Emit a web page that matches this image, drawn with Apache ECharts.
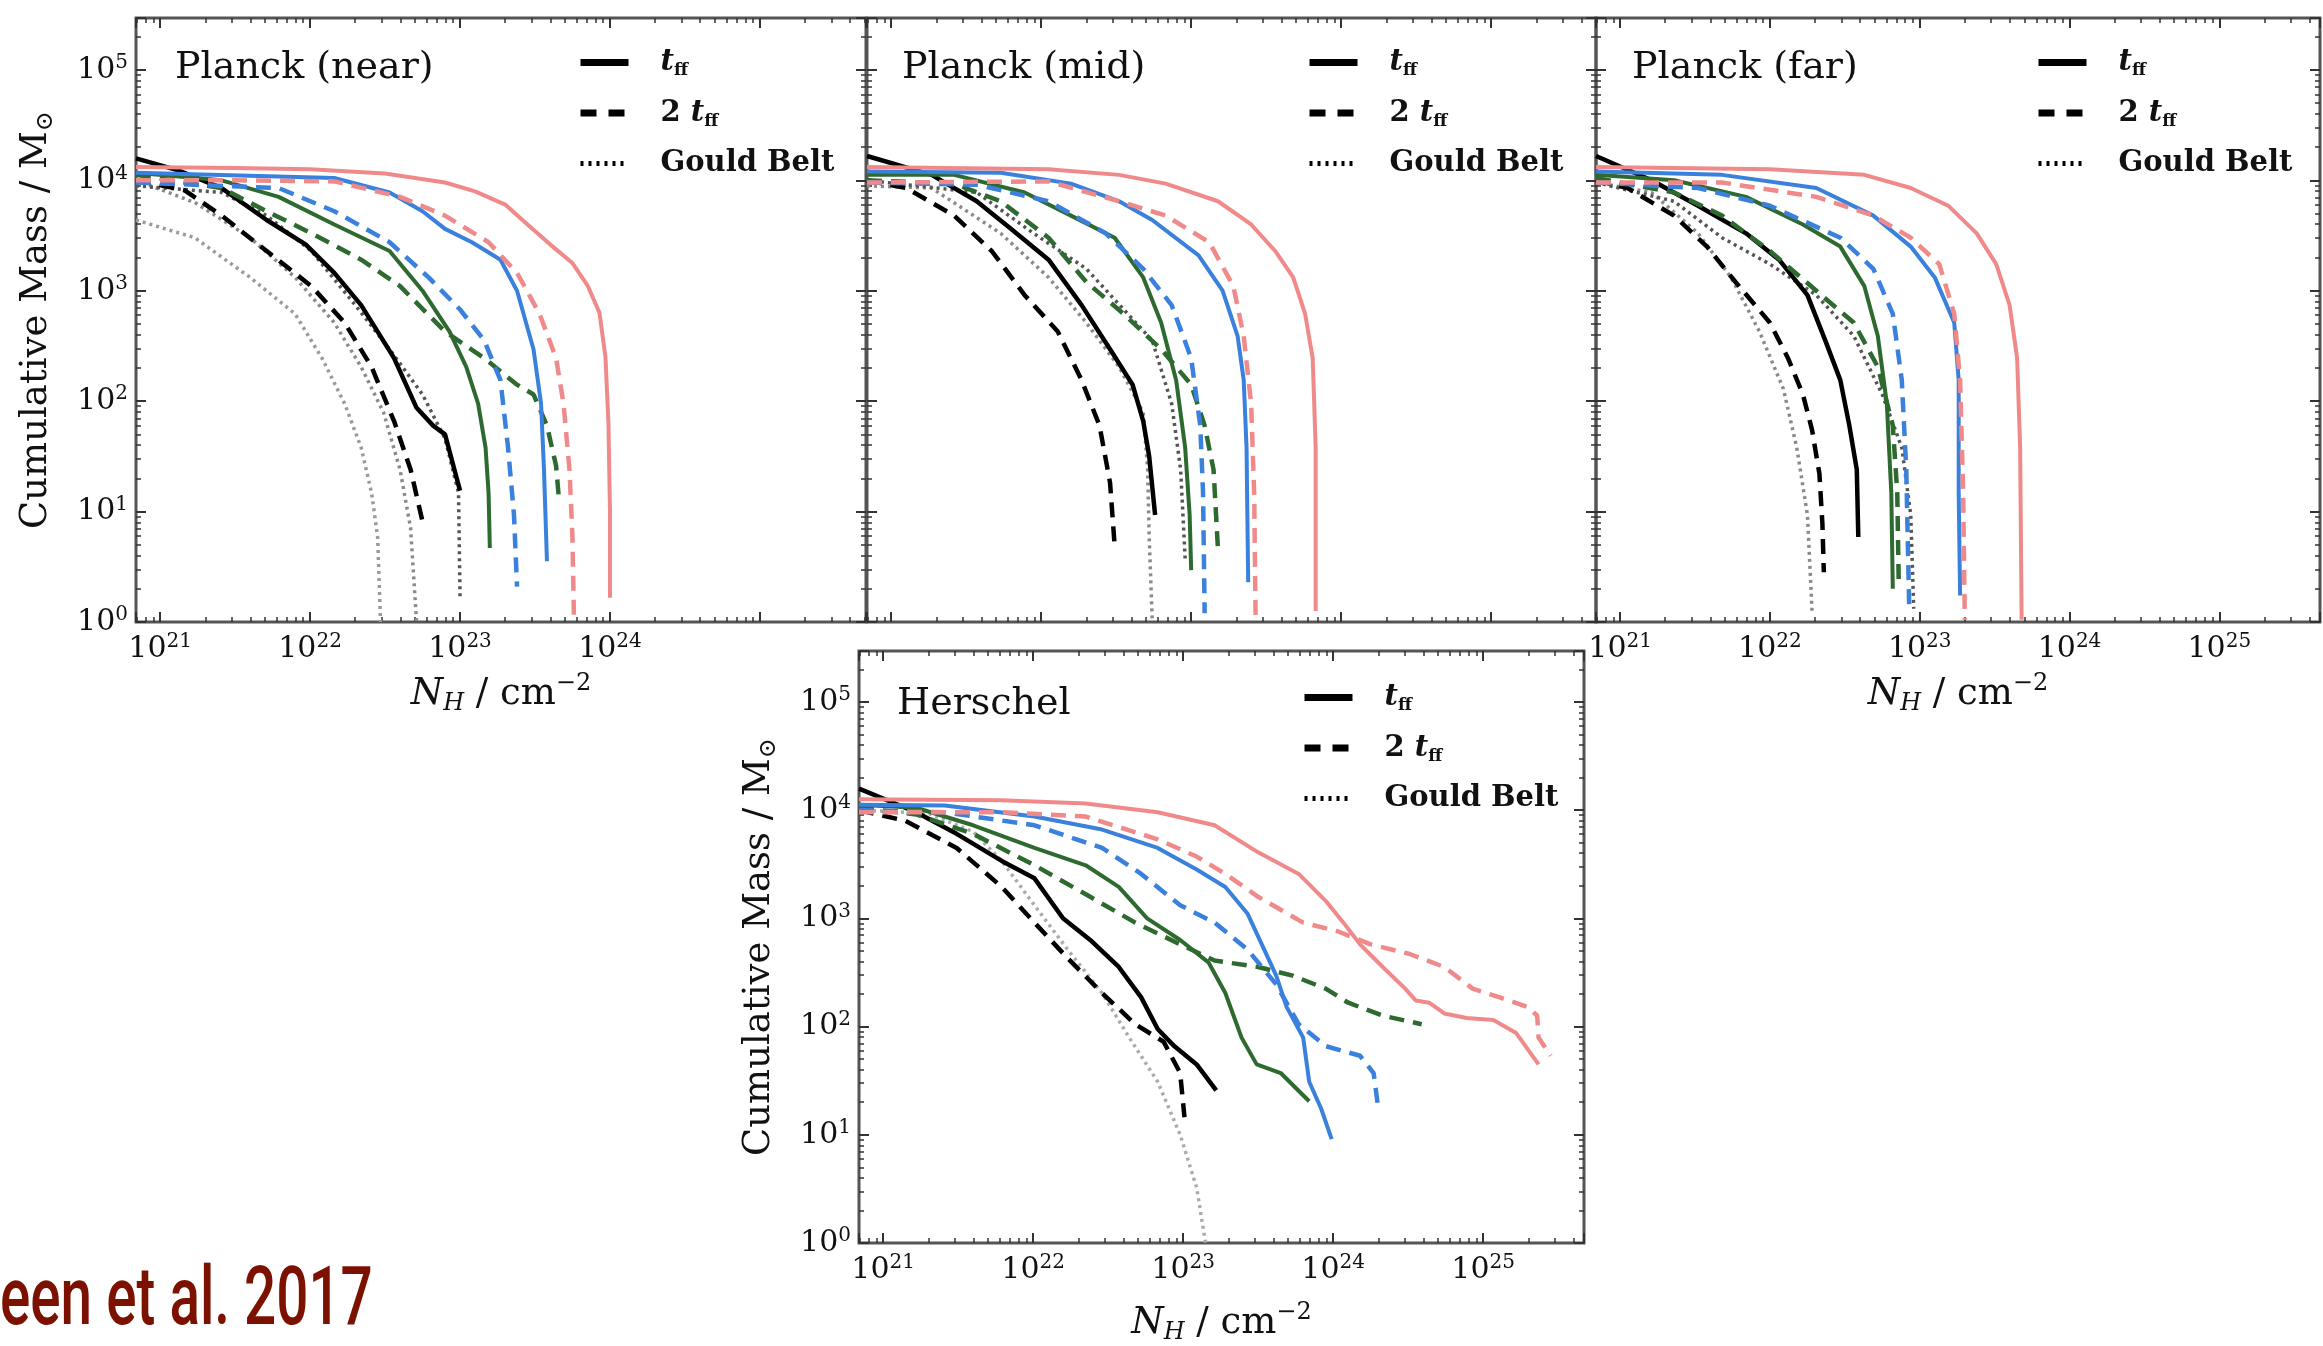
<!DOCTYPE html>
<html><head><meta charset="utf-8">
<script src="https://cdn.jsdelivr.net/npm/echarts@6/dist/echarts.min.js"></script>
<style>html,body{margin:0;padding:0;background:#fff}#c{width:2323px;height:1346px}</style>
</head><body><div id="c"></div><script>
// ---------- labels ----------
const panelNames = ['Planck (near)', 'Planck (mid)', 'Planck (far)', 'Herschel'];
const legendNames = ['t_ff', '2 t_ff', 'Gould Belt'];
const xTickExps = [[21, 22, 23, 24], [], [21, 22, 23, 24, 25], [21, 22, 23, 24, 25]];
const yTickExps = [[0, 1, 2, 3, 4, 5], [], [], [0, 1, 2, 3, 4, 5]];
const minorMantissas = [2, 3, 4, 5, 6, 7, 8, 9];
const xDecades = [20, 21, 22, 23, 24, 25];
const yDecades = [0, 1, 2, 3, 4, 5];
const xRangeMin = [6.9e20, 6.9e20, 6.9e20, 6.9e20];
const xRangeMax = [5.1e25, 5.0e25, 4.7e25, 4.7e25];
const yRangeMin = 1;
const yRangeMax = 2.95e5;

// ---------- Planck (near) ----------
const near_pink_tff = [[6.9e20,1.32e4],[3.16e21,1.29e4],[1e22,1.26e4],[3.16e22,1.15e4],[7.94e22,9.55e3],[1.26e23,7.94e3],[2.0e23,6.03e3],[2.82e23,3.98e3],[3.98e23,2.63e3],[5.62e23,1.78e3],[7.08e23,1.12e3],[8.51e23,631],[9.33e23,251],[9.77e23,63],[1e24,10],[1e24,1.66]];
const near_pink_2tff = [[6.9e20,1e4],[3.16e21,1e4],[1.45e22,9.77e3],[3.98e22,7.08e3],[7.94e22,4.79e3],[1.55e23,2.75e3],[2.4e23,1.45e3],[3.39e23,617],[4.37e23,245],[4.9e23,95],[5.37e23,24],[5.62e23,5.9],[5.75e23,1.1]];
const near_blue_tff = [[6.9e20,1.17e4],[1.45e22,1.05e4],[3.39e22,7.76e3],[5.62e22,5.25e3],[7.94e22,3.63e3],[1.2e23,2.75e3],[1.86e23,1.91e3],[2.4e23,1e3],[3.09e23,295],[3.47e23,95],[3.63e23,24],[3.8e23,3.55]];
const near_blue_2tff = [[6.9e20,9.55e3],[6.17e21,8.51e3],[1.45e22,5.25e3],[3.39e22,2.75e3],[6.17e22,1.32e3],[1e23,676],[1.45e23,355],[1.86e23,155],[2.09e23,38],[2.29e23,9.3],[2.4e23,2.09]];
const near_green_tff = [[6.9e20,1.17e4],[2.57e21,1e4],[6.17e21,7.08e3],[1.45e22,3.98e3],[3.39e22,2.29e3],[5.62e22,1e3],[8.51e22,427],[1.1e23,204],[1.32e23,95],[1.48e23,38],[1.55e23,14.8],[1.58e23,4.68]];
const near_green_2tff = [[6.9e20,1.12e4],[2.57e21,8.51e3],[5.13e21,5.25e3],[1.02e22,3.31e3],[2.19e22,1.91e3],[3.98e22,1.1e3],[7.94e22,427],[1.45e23,245],[2.4e23,141],[3.09e23,115],[3.8e23,60],[4.37e23,26],[4.57e23,12.9]];
const near_black_tff = [[6.9e20,1.58e4],[1.32e21,1.23e4],[2.57e21,8.51e3],[5.13e21,4.37e3],[9.33e21,2.63e3],[1.45e22,1.45e3],[2.19e22,741],[3.63e22,245],[5.13e22,87],[6.61e22,60],[7.94e22,50],[9.33e22,22],[1e23,15.5]];
const near_black_2tff = [[6.9e20,1e4],[1.45e21,8.13e3],[2.57e21,4.79e3],[5.13e21,2.29e3],[1.02e22,1.1e3],[1.7e22,513],[2.57e22,204],[3.63e22,66],[4.68e22,24],[5.62e22,8.13]];
const near_gould_a = [[6.9e20,4.37e3],[1.7e21,3.02e3],[3.98e21,1.32e3],[7.94e21,617],[1.2e22,245],[1.7e22,95],[2.19e22,38],[2.57e22,14.8],[2.82e22,5.89],[2.95e22,1.0]];
const near_gould_b = [[6.9e20,1e4],[1.7e21,6.31e3],[3.98e21,3.02e3],[7.94e21,1.32e3],[1.45e22,513],[2.19e22,204],[3.09e22,79],[3.98e22,24],[4.68e22,7.08],[5.13e22,1.0]];
const near_gould_c = [[6.9e20,8.91e3],[2.57e21,7.76e3],[5.13e21,4.79e3],[1.02e22,2.29e3],[2.0e22,741],[3.39e22,295],[5.62e22,115],[7.94e22,45.7],[9.77e22,14.8],[1e23,1.7]];

// ---------- Planck (mid) ----------
const mid_pink_tff = [[6.9e20,1.32e4],[1.12e22,1.26e4],[3.31e22,1.12e4],[6.76e22,9.33e3],[1.51e23,6.46e3],[2.51e23,3.98e3],[3.63e23,2.29e3],[4.79e23,1.32e3],[5.75e23,617],[6.46e23,245],[6.76e23,38],[6.76e23,1.26]];
const mid_pink_2tff = [[6.9e20,9.55e3],[1.12e22,9.77e3],[3.31e22,6.46e3],[6.76e22,4.79e3],[1.32e23,2.75e3],[1.91e23,1.1e3],[2.24e23,389],[2.51e23,95],[2.63e23,14.8],[2.69e23,1.05]];
const mid_blue_tff = [[6.9e20,1.2e4],[5.37e21,1.17e4],[1.58e22,9.33e3],[3.31e22,6.46e3],[5.5e22,4.37e3],[1.12e23,2.09e3],[1.62e23,1e3],[2.04e23,389],[2.24e23,155],[2.34e23,38],[2.4e23,2.29]];
const mid_blue_2tff = [[6.9e20,9.55e3],[3.72e21,9.12e3],[1.12e22,6.46e3],[2.69e22,3.31e3],[4.79e22,1.58e3],[7.41e22,741],[1e23,245],[1.15e23,60],[1.2e23,14.8],[1.23e23,1.2]];
const mid_green_tff = [[6.9e20,1.12e4],[2.63e21,1.12e4],[7.76e21,7.76e3],[1.58e22,4.79e3],[3.09e22,3.02e3],[4.79e22,1.32e3],[6.31e22,513],[7.94e22,155],[9.12e22,38],[9.77e22,9.33],[1e23,2.95]];
const mid_green_2tff = [[6.9e20,1e4],[2.63e21,9.33e3],[5.37e21,6.46e3],[1.12e22,3.02e3],[2.0e22,1.2e3],[3.55e22,617],[6.31e22,295],[1e23,141],[1.23e23,60],[1.41e23,24],[1.51e23,4.47]];
const mid_black_tff = [[6.9e20,1.66e4],[1.86e21,1.12e4],[3.72e21,6.46e3],[6.31e21,3.63e3],[1.12e22,1.91e3],[1.86e22,741],[2.88e22,295],[4.07e22,141],[4.79e22,66],[5.25e22,31.6],[5.75e22,9.33]];
const mid_black_2tff = [[6.9e20,1e4],[1.26e21,8.51e3],[2.63e21,4.79e3],[4.68e21,2.29e3],[7.76e21,912],[1.29e22,427],[1.86e22,155],[2.45e22,60],[2.88e22,18.2],[3.09e22,4.9]];
const mid_gould_a = [[6.9e20,8.91e3],[1.86e21,8.51e3],[5.37e21,3.31e3],[1.12e22,1.32e3],[2.0e22,513],[3.31e22,204],[4.79e22,79],[5.13e22,24],[5.25e22,5.89],[5.5e22,1.05]];
const mid_gould_b = [[6.9e20,1e4],[3.72e21,7.76e3],[8.91e21,3.31e3],[2.0e22,1.58e3],[3.55e22,676],[5.5e22,355],[7.41e22,95],[8.51e22,24],[9.12e22,3.72]];

// ---------- Planck (far) ----------
const far_pink_tff = [[6.9e20,1.32e4],[1e22,1.26e4],[4.27e22,1.12e4],[8.71e22,8.51e3],[1.55e23,5.89e3],[2.4e23,3.31e3],[3.24e23,1.74e3],[3.98e23,741],[4.47e23,245],[4.68e23,38],[4.79e23,1.05]];
const far_pink_2tff = [[6.9e20,9.55e3],[4.79e21,9.55e3],[2.04e22,7.08e3],[4.9e22,4.79e3],[8.71e22,3.02e3],[1.35e23,1.74e3],[1.7e23,617],[1.86e23,155],[1.95e23,14.8],[2.0e23,1.05]];
const far_blue_tff = [[6.9e20,1.2e4],[4.79e21,1.12e4],[2.04e22,8.51e3],[4.9e22,4.79e3],[8.71e22,2.51e3],[1.26e23,1.32e3],[1.7e23,513],[1.82e23,155],[1.82e23,14.8],[1.86e23,1.74]];
const far_blue_2tff = [[6.9e20,9.55e3],[3.31e21,8.51e3],[1e22,5.89e3],[2.95e22,3.02e3],[4.9e22,1.58e3],[6.61e22,617],[7.59e22,155],[8.13e22,24],[8.51e22,1.32]];
const far_green_tff = [[6.9e20,1.12e4],[2.29e21,1e4],[6.92e21,7.08e3],[1.66e22,3.98e3],[2.95e22,2.51e3],[4.27e22,1.1e3],[5.25e22,389],[6.03e22,95],[6.46e22,14.8],[6.61e22,2.0]];
const far_green_2tff = [[6.9e20,1.05e4],[2.29e21,7.76e3],[4.79e21,4.79e3],[1e22,2.29e3],[2.04e22,1e3],[3.63e22,513],[5.25e22,204],[6.61e22,60],[7.08e22,14.8],[7.24e22,2.29]];
const far_black_tff = [[6.9e20,1.66e4],[1.62e21,1e4],[3.31e21,5.89e3],[6.92e21,3.31e3],[1.15e22,1.91e3],[1.78e22,912],[2.34e22,355],[2.95e22,155],[3.39e22,60],[3.8e22,24],[3.89e22,5.89]];
const far_black_2tff = [[6.9e20,1e4],[1.12e21,8.51e3],[2.29e21,4.79e3],[3.8e21,2.51e3],[5.89e21,1.2e3],[1e22,513],[1.32e22,245],[1.66e22,115],[1.91e22,55],[2.14e22,21.9],[2.24e22,7.76],[2.29e22,2.82]];
const far_gould_a = [[6.9e20,9.55e3],[1.62e21,7.76e3],[3.31e21,3.31e3],[5.5e21,1.32e3],[8.51e21,427],[1.23e22,129],[1.51e22,38],[1.78e22,9.33],[1.91e22,1.26]];
const far_gould_b = [[6.9e20,9.55e3],[2.29e21,6.46e3],[4.79e21,3.02e3],[1e22,1.74e3],[2.04e22,912],[3.63e22,389],[5.62e22,115],[7.59e22,38],[8.71e22,9.33],[9.12e22,1.32]];

// ---------- Herschel ----------
const her_pink_tff = [[6.9e20,1.26e4],[6.17e21,1.23e4],[2.24e22,1.15e4],[6.76e22,9.55e3],[1.62e23,7.24e3],[3.16e23,4.07e3],[5.89e23,2.57e3],[8.91e23,1.45e3],[1.17e24,912],[1.51e24,575],[2.14e24,355],[3.02e24,224],[3.55e24,174],[4.37e24,166],[5.5e24,132],[7.76e24,120],[1.17e25,115],[1.66e25,87],[2.34e25,44.7]];
const her_pink_2tff = [[6.9e20,9.55e3],[6.17e21,9.55e3],[2.24e22,8.71e3],[6.76e22,5.37e3],[1.23e23,3.72e3],[1.91e23,2.57e3],[3.16e23,1.58e3],[6.31e23,912],[1.07e24,759],[1.78e24,575],[3.24e24,468],[5.5e24,355],[8.51e24,224],[1.29e25,186],[2.0e25,151],[2.29e25,126],[2.34e25,79],[2.82e25,53.7]];
const her_blue_tff = [[6.9e20,1.12e4],[2.57e21,1.1e4],[1.02e22,8.71e3],[2.88e22,6.61e3],[6.76e22,4.47e3],[1.23e23,2.82e3],[1.91e23,1.95e3],[2.69e23,1.1e3],[3.47e23,513],[4.17e23,295],[4.9e23,151],[6.31e23,79],[6.92e23,30.9],[8.32e23,17.4],[9.77e23,9.12]];
const her_blue_2tff = [[6.9e20,1e4],[2.57e21,9.55e3],[1.02e22,7.24e3],[2.88e22,4.47e3],[5.25e22,2.57e3],[9.55e22,1.32e3],[1.62e23,912],[2.69e23,513],[4.17e23,245],[5.89e23,105],[8.91e23,66],[1.51e24,53.7],[1.86e24,37.2],[2.0e24,17.4]];
const her_green_tff = [[6.9e20,1.12e4],[1.66e21,1.05e4],[3.98e21,7.24e3],[1.02e22,4.47e3],[2.24e22,3.09e3],[3.72e22,1.95e3],[5.75e22,1e3],[9.55e22,631],[1.48e23,389],[1.91e23,204],[2.45e23,79],[3.09e23,44.7],[4.47e23,37.2],[6.92e23,20.4]];
const her_green_2tff = [[6.9e20,1.05e4],[1.66e21,9.12e3],[3.98e21,6.03e3],[1.02e22,3.09e3],[2.4e22,1.58e3],[4.79e22,912],[9.55e22,575],[1.62e23,407],[3.16e23,355],[5.37e23,295],[8.91e23,224],[1.26e24,166],[2.14e24,126],[3.89e24,105]];
const her_black_tff = [[6.9e20,1.58e4],[1.66e21,9.55e3],[3.09e21,6.03e3],[6.17e21,3.39e3],[1.02e22,2.34e3],[1.58e22,1e3],[2.4e22,631],[3.72e22,355],[5.25e22,186],[6.76e22,95],[8.71e22,66],[1.23e23,44.7],[1.66e23,25.7]];
const her_black_2tff = [[6.9e20,1e4],[1.41e21,7.94e3],[3.09e21,4.47e3],[6.17e21,1.95e3],[1.02e22,912],[1.7e22,427],[2.88e22,204],[4.79e22,105],[7.41e22,72.4],[9.55e22,37.2],[1.02e23,14.5]];
const her_gould = [[6.9e20,1e4],[2.0e21,9.33e3],[3.98e21,6.31e3],[6.17e21,3.39e3],[1.02e22,1.32e3],[1.7e22,513],[2.88e22,204],[4.37e22,79],[6.76e22,30.9],[9.55e22,10],[1.23e23,3.24],[1.41e23,1.0]];

// ---------- styling ----------
const PINK = '#F08A8A', BLUE = '#3A80DD', GREEN = '#2E6A30', BLACK = '#000000';
const SERIF = '"DejaVu Serif", serif';
const grids = [
  {left: 136, top: 18, width: 730, height: 604},
  {left: 867, top: 18, width: 729, height: 604},
  {left: 1596, top: 18, width: 725, height: 604},
  {left: 859, top: 651, width: 725, height: 604}
];

const panels = [
  {gould: [[near_gould_a, '#9a9a9a'], [near_gould_b, '#8a8a8a'], [near_gould_c, '#555555']],
   lines: [[near_black_tff, BLACK, 's'], [near_black_2tff, BLACK, 'd'], [near_green_tff, GREEN, 's'], [near_green_2tff, GREEN, 'd'],
           [near_blue_tff, BLUE, 's'], [near_blue_2tff, BLUE, 'd'], [near_pink_tff, PINK, 's'], [near_pink_2tff, PINK, 'd']]},
  {gould: [[mid_gould_a, '#8a8a8a'], [mid_gould_b, '#555555']],
   lines: [[mid_black_tff, BLACK, 's'], [mid_black_2tff, BLACK, 'd'], [mid_green_tff, GREEN, 's'], [mid_green_2tff, GREEN, 'd'],
           [mid_blue_tff, BLUE, 's'], [mid_blue_2tff, BLUE, 'd'], [mid_pink_tff, PINK, 's'], [mid_pink_2tff, PINK, 'd']]},
  {gould: [[far_gould_a, '#8a8a8a'], [far_gould_b, '#555555']],
   lines: [[far_black_tff, BLACK, 's'], [far_black_2tff, BLACK, 'd'], [far_green_tff, GREEN, 's'], [far_green_2tff, GREEN, 'd'],
           [far_blue_tff, BLUE, 's'], [far_blue_2tff, BLUE, 'd'], [far_pink_tff, PINK, 's'], [far_pink_2tff, PINK, 'd']]},
  {gould: [[her_gould, '#ababab']],
   lines: [[her_black_tff, BLACK, 's'], [her_black_2tff, BLACK, 'd'], [her_green_tff, GREEN, 's'], [her_green_2tff, GREEN, 'd'],
           [her_blue_tff, BLUE, 's'], [her_blue_2tff, BLUE, 'd'], [her_pink_tff, PINK, 's'], [her_pink_2tff, PINK, 'd']]}
];

// minor tick values (axis tick positions, mantissa x decade)
const xMinorTicks = [], yMinorTicks = [];
xDecades.forEach(d => minorMantissas.forEach(m => xMinorTicks.push(Number(m + 'e' + d))));
yDecades.forEach(d => minorMantissas.forEach(m => yMinorTicks.push(Number(m + 'e' + d))));

function expLabel(v, list) {
  const e = Math.log10(v), r = Math.round(e);
  if (Math.abs(e - r) > 1e-6 || list.indexOf(r) < 0) return '';
  return '{b|10}{s|' + r + '}';
}
const tickRich = {
  b: {fontFamily: SERIF, fontSize: 30, lineHeight: 34, color: '#111'},
  s: {fontFamily: SERIF, fontSize: 20, lineHeight: 14, verticalAlign: 'top', color: '#111'}
};
const tickStyle = {show: true, inside: true, length: 10, lineStyle: {color: '#333', width: 2}};

const xAxes = [], yAxes = [], series = [];
const xNameCfg = [{gap: 50}, null, {gap: 50}, {gap: 58}];
const yNameCfg = [{gap: 78}, null, null, {gap: 78}];
function minorAxis(kind, i, pos) {
  const isX = kind === 'x';
  const vals = (isX ? xMinorTicks : yMinorTicks).filter(v => isX ? (v > xRangeMin[i] && v < xRangeMax[i]) : (v > yRangeMin && v < yRangeMax));
  return {type: 'log', logBase: 10, gridIndex: i, position: pos,
    min: isX ? xRangeMin[i] : yRangeMin, max: isX ? xRangeMax[i] : yRangeMax,
    axisLine: {show: false}, splitLine: {show: false}, axisLabel: {show: false},
    axisTick: {show: true, inside: true, length: 5, customValues: vals, lineStyle: {color: '#333', width: 1.5}}};
}
grids.forEach((g, i) => {
  const xb = {type: 'log', logBase: 10, gridIndex: i, position: 'bottom', min: xRangeMin[i], max: xRangeMax[i],
    axisLine: {show: false}, splitLine: {show: false}, axisTick: tickStyle,
    axisLabel: {show: xTickExps[i].length > 0, margin: 10, formatter: v => expLabel(v, xTickExps[i]), rich: tickRich,
      showMinLabel: true, showMaxLabel: true, hideOverlap: false}};
  if (xNameCfg[i]) {
    xb.name = '{n|N}{h|H}{r| / cm}{s|\u22122}';
    xb.nameLocation = 'middle';
    xb.nameGap = xNameCfg[i].gap;
    xb.nameTextStyle = {rich: {
      n: {fontFamily: SERIF, fontStyle: 'italic', fontSize: 37, lineHeight: 44, color: '#111'},
      h: {fontFamily: SERIF, fontStyle: 'italic', fontSize: 24, lineHeight: 22, verticalAlign: 'bottom', color: '#111'},
      r: {fontFamily: SERIF, fontSize: 37, lineHeight: 44, color: '#111'},
      s: {fontFamily: SERIF, fontSize: 24, lineHeight: 18, verticalAlign: 'top', color: '#111'}}};
  }
  xAxes.push(xb);
  xAxes.push({type: 'log', logBase: 10, gridIndex: i, position: 'top', min: xRangeMin[i], max: xRangeMax[i],
    axisLine: {show: false}, splitLine: {show: false}, axisTick: tickStyle, axisLabel: {show: false}});
  const yl = {type: 'log', logBase: 10, gridIndex: i, position: 'left', min: yRangeMin, max: yRangeMax,
    axisLine: {show: false}, splitLine: {show: false}, axisTick: tickStyle,
    axisLabel: {show: yTickExps[i].length > 0, margin: 8, formatter: v => expLabel(v, yTickExps[i]), rich: tickRich,
      showMinLabel: true, showMaxLabel: true, hideOverlap: false}};
  if (yNameCfg[i]) {
    yl.name = '{r|Cumulative Mass / M}{o|\u2299}';
    yl.nameLocation = 'middle';
    yl.nameGap = yNameCfg[i].gap;
    yl.nameTextStyle = {rich: {
      r: {fontFamily: SERIF, fontSize: 37, lineHeight: 44, color: '#111'},
      o: {fontFamily: SERIF, fontSize: 24, lineHeight: 24, verticalAlign: 'bottom', color: '#111'}}};
  }
  yAxes.push(yl);
  yAxes.push({type: 'log', logBase: 10, gridIndex: i, position: 'right', min: yRangeMin, max: yRangeMax,
    axisLine: {show: false}, splitLine: {show: false}, axisTick: tickStyle, axisLabel: {show: false}});

  panels[i].gould.forEach(([d, c]) => series.push({type: 'line', xAxisIndex: 2 * i, yAxisIndex: 2 * i, data: d,
    symbol: 'none', silent: true, animation: false, lineStyle: {color: c, width: 3.5, type: [3, 4]}, z: 2}));
  panels[i].lines.forEach(([d, c, k]) => series.push({type: 'line', xAxisIndex: 2 * i, yAxisIndex: 2 * i, data: d,
    symbol: 'none', silent: true, animation: false,
    lineStyle: k === 's' ? {color: c, width: c === BLACK ? 4.5 : 4, type: 'solid'} : {color: c, width: 4.5, type: [15, 9]}, z: 3}));
});
// minor-tick axes (indices after the main ones)
grids.forEach((g, i) => {
  xAxes.push(minorAxis('x', i, 'bottom'));
  xAxes.push(minorAxis('x', i, 'top'));
  yAxes.push(minorAxis('y', i, 'left'));
  yAxes.push(minorAxis('y', i, 'right'));
});

// legend proxy series (style keys only)
series.push({name: legendNames[0], type: 'line', xAxisIndex: 0, yAxisIndex: 0, data: [], symbol: 'none', itemStyle: {color: '#000', opacity: 0}, lineStyle: {color: '#000', width: 7, type: 'solid'}});
series.push({name: legendNames[1], type: 'line', xAxisIndex: 0, yAxisIndex: 0, data: [], symbol: 'none', itemStyle: {color: '#000', opacity: 0}, lineStyle: {color: '#000', width: 7, type: [16, 12]}});
series.push({name: legendNames[2], type: 'line', xAxisIndex: 0, yAxisIndex: 0, data: [], symbol: 'none', itemStyle: {color: '#000', opacity: 0}, lineStyle: {color: '#000', width: 5, type: [3, 5]}});

const legendLabel = {'t_ff': '{t|t}{f|ff}', '2 t_ff': '{b|2 }{t|t}{f|ff}', 'Gould Belt': '{b|Gould Belt}'};
const legendItemStyles = [
  {width: 7, type: 'solid'}, {width: 7, type: [16, 12]}, {width: 5, type: [3, 5]}
];
const legendPos = [[577, 48], [1306, 48], [2035, 48], [1301, 683]];
const legends = legendPos.map(([l, t]) => ({
  data: legendNames.map((n, k) => ({name: n, lineStyle: Object.assign({color: '#000', opacity: 1}, legendItemStyles[k]), itemStyle: {opacity: 0}})),
  orient: 'vertical', left: l, top: t, itemWidth: 48, itemHeight: 14, itemGap: 19,
  selectedMode: false, padding: 0, formatter: n => legendLabel[n],
  itemStyle: {opacity: 0},
  textStyle: {padding: [0, 0, 0, 27], rich: {
    t: {fontFamily: SERIF, fontStyle: 'italic', fontWeight: 'bold', fontSize: 29, lineHeight: 34, color: '#111'},
    f: {fontFamily: SERIF, fontWeight: 'bold', fontSize: 17, lineHeight: 18, verticalAlign: 'bottom', color: '#111'},
    b: {fontFamily: SERIF, fontWeight: 'bold', fontSize: 29, lineHeight: 34, color: '#111'}}}
}));

const titlePos = [[175, 49], [902, 49], [1632, 49], [897, 685]];
const titles = panelNames.map((n, i) => ({text: n, left: titlePos[i][0], top: titlePos[i][1], padding: 0,
  textStyle: {fontFamily: SERIF, fontSize: 38, fontWeight: 'normal', color: '#111'}}));

const chart = echarts.init(document.getElementById('c'));
chart.setOption({
  animation: false,
  backgroundColor: '#ffffff',
  title: titles,
  legend: legends,
  grid: grids.map(g => Object.assign({show: true, borderColor: '#555', borderWidth: 3, backgroundColor: 'transparent'}, g)),
  xAxis: xAxes,
  yAxis: yAxes,
  series: series,
  graphic: [{type: 'text', left: 0, top: 1262, silent: true, scaleX: 0.69,
    style: {text: 'een et al. 2017', font: '500 82px Roboto, "Open Sans", sans-serif', fill: '#7d1100'}}]
});
</script></body></html>
